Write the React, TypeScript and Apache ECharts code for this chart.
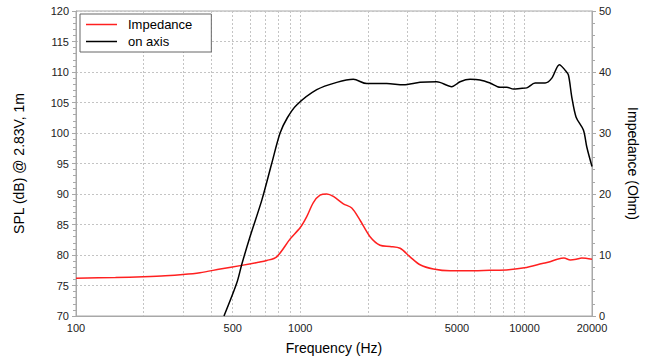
import React, { useEffect, useRef } from "react";
import * as echarts from "echarts";

const FONT = "'Liberation Sans', Arial, Helvetica, sans-serif";

const xLabelValues = [100, 500, 1000, 5000, 10000, 20000];
const xGridValues = [
  100, 200, 300, 400, 500, 600, 700, 800, 900,
  1000, 2000, 3000, 4000, 5000, 6000, 7000, 8000, 9000,
  10000, 20000,
];

const splFreq = [
  457, 521, 548, 597, 674, 746, 813, 876, 964, 1185, 1455, 1725, 1980,
  2431, 2884, 3422, 4062, 4739, 5161, 5719, 6339, 7025, 7783, 8337, 8925, 9559,
  10240, 11150, 12360, 13240, 14310, 15180, 15700, 16250, 16990, 18310, 18960,
  20000,
];
const splDb = [
  70, 75.4, 78.4, 83, 89, 95, 100, 102.5, 104.6, 107.1, 108.3, 108.8, 108.1,
  108.1, 107.9, 108.3, 108.4, 107.6, 108.4, 108.8, 108.7, 108.2, 107.5, 107.5,
  107.2, 107.3, 107.4, 108.2, 108.2, 109.0, 111.2, 110.3, 109.5, 105.9, 102.6,
  100.5, 97.7, 94.5,
];

const impFreq = [
  100, 150, 200, 250, 300, 357, 440, 548, 650, 709, 785, 900, 1000, 1069, 1144,
  1225, 1313, 1405, 1557, 1697, 1848, 2048, 2269, 2515, 2787, 3088, 3422, 3924,
  4659, 5500, 7000, 8500, 10000, 12000, 13000, 14000, 15000, 16000, 17000,
  18000, 20000,
];
const impOhm = [
  6.2, 6.3, 6.45, 6.6, 6.8, 7.1, 7.7, 8.3, 8.8, 9.1, 9.7, 12.6, 14.5, 16.3,
  18.6, 19.8, 20.0, 19.6, 18.4, 17.7, 15.7, 13.0, 11.6, 11.4, 11.1, 9.7, 8.4,
  7.7, 7.4, 7.4, 7.5, 7.6, 7.9, 8.6, 8.9, 9.3, 9.5, 9.2, 9.3, 9.5, 9.3,
];

const gridLine = { color: "#c4c4c4", type: [2, 2] as number[], width: 1 };
const axisGray = "#a8a8a8";

export default function App() {
  const ref = useRef<HTMLDivElement>(null);
  useEffect(() => {
    if (!ref.current) return;
    const chart = echarts.init(ref.current, undefined, { renderer: "svg" });
    chart.setOption({
      animation: false,
      backgroundColor: "#fff",
      textStyle: { fontFamily: FONT },
      grid: {
        left: 76,
        right: 58,
        top: 11,
        bottom: 42,
        outerBoundsMode: "none",
        containLabel: false,
        show: true,
        borderColor: axisGray,
        borderWidth: 1,
      },
      legend: {
        left: 80,
        top: 14,
        orient: "vertical",
        data: [
          { name: "Impedance", icon: "rect" },
          { name: "on axis", icon: "rect" },
        ],
        itemWidth: 31,
        itemHeight: 1.5,
        itemGap: 2,
        padding: [3, 19, 3, 6],
        borderColor: "#666",
        borderWidth: 1,
        backgroundColor: "#fff",
        textStyle: {
          fontSize: 13,
          color: "#000",
          fontFamily: FONT,
          lineHeight: 15,
          padding: [0, 0, 0, 6],
        },
      },
      xAxis: {
        type: "log",
        logBase: 10,
        min: 100,
        max: 20000,
        name: "Frequency (Hz)",
        nameLocation: "middle",
        nameGap: 25,
        nameTextStyle: { fontSize: 14, color: "#000", fontFamily: FONT },
        axisLine: { show: true, lineStyle: { color: axisGray } },
        axisTick: { show: false, customValues: xGridValues },
        axisLabel: {
          customValues: xLabelValues,
          formatter: (v: number) => String(Math.round(v)),
          fontSize: 11,
          color: "#222",
          margin: 6,
          fontFamily: FONT,
        },
        splitLine: { show: true, lineStyle: gridLine },
      },
      yAxis: [
        {
          type: "value",
          min: 70,
          max: 120,
          interval: 5,
          position: "left",
          name: "SPL (dB) @ 2.83V, 1m",
          nameLocation: "middle",
          nameGap: 50,
          nameTextStyle: { fontSize: 14, color: "#000", fontFamily: FONT },
          axisLine: { show: true, lineStyle: { color: axisGray } },
          axisTick: { show: true, length: 4, lineStyle: { color: axisGray } },
          minorTick: {
            show: true,
            splitNumber: 5,
            length: 3,
            lineStyle: { color: axisGray },
          },
          axisLabel: { fontSize: 11, color: "#222", margin: 7, fontFamily: FONT },
          splitLine: { show: true, lineStyle: gridLine },
        },
        {
          type: "value",
          min: 0,
          max: 50,
          interval: 10,
          position: "right",
          name: "Impedance (Ohm)",
          nameLocation: "middle",
          nameRotate: -90,
          nameGap: 34,
          nameTextStyle: { fontSize: 14, color: "#000", fontFamily: FONT },
          axisLine: { show: true, lineStyle: { color: axisGray } },
          axisTick: { show: true, length: 4, lineStyle: { color: axisGray } },
          minorTick: {
            show: true,
            splitNumber: 5,
            length: 3,
            lineStyle: { color: axisGray },
          },
          axisLabel: { fontSize: 11, color: "#222", margin: 7, fontFamily: FONT },
          splitLine: { show: false },
        },
      ],
      series: [
        {
          name: "Impedance",
          type: "line",
          yAxisIndex: 1,
          showSymbol: false,
          smooth: 0.3,
          color: "#ff2020",
          lineStyle: { color: "#ff2020", width: 1.5 },
          data: impFreq.map((f, i) => [f, impOhm[i]]),
        },
        {
          name: "on axis",
          type: "line",
          yAxisIndex: 0,
          showSymbol: false,
          smooth: 0.3,
          color: "#000",
          lineStyle: { color: "#000", width: 1.5 },
          data: splFreq.map((f, i) => [f, splDb[i]]),
        },
      ],
    });
    return () => chart.dispose();
  }, []);
  return (
    <div
      ref={ref}
      style={{ position: "fixed", left: 0, top: 0, width: 650, height: 358 }}
    />
  );
}
